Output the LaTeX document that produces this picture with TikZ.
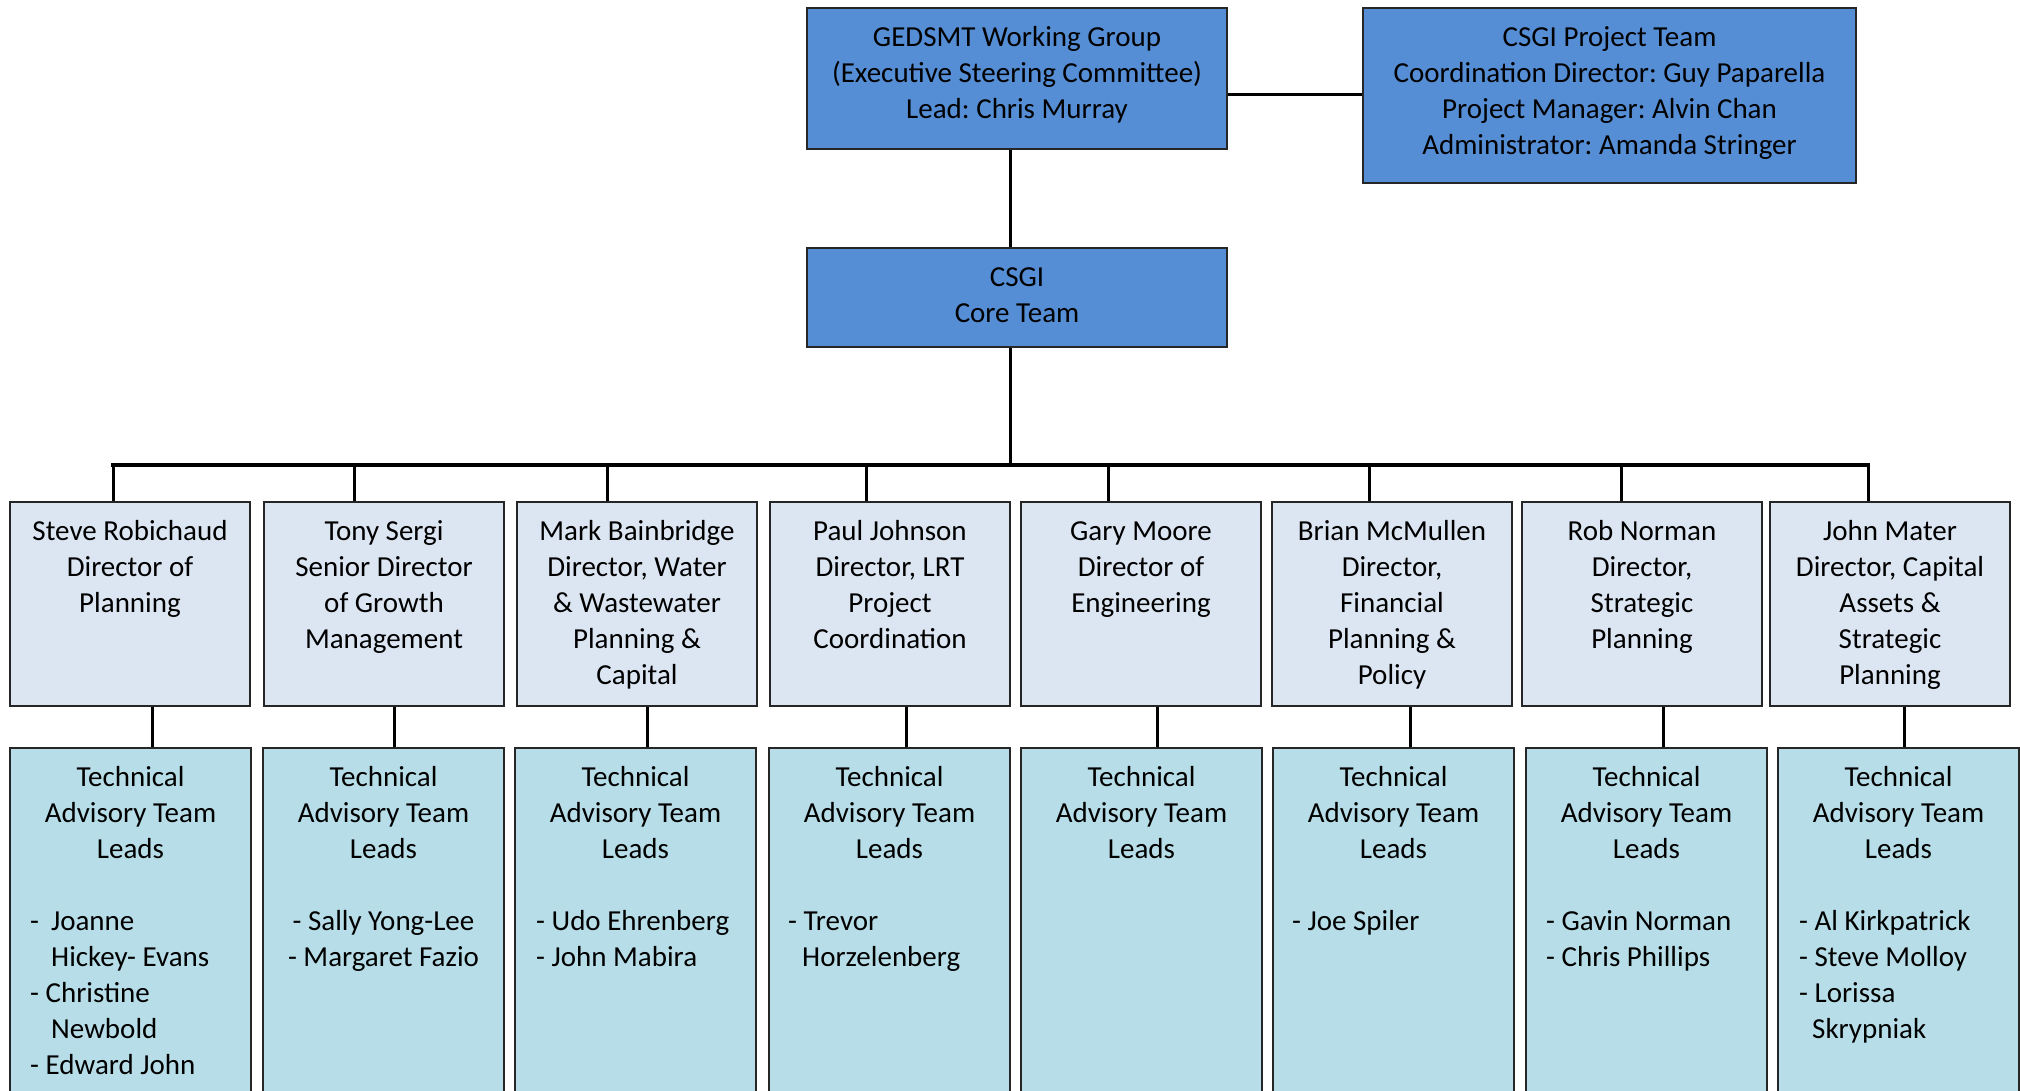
\documentclass[tikz,border=0pt]{standalone}
\usepackage{fontspec}
\setmainfont{Carlito}
\frenchspacing
\definecolor{topblue}{HTML}{558ED5}
\definecolor{dirfill}{HTML}{DCE6F2}
\definecolor{tatfill}{HTML}{B7DEE8}
\begin{document}
\begin{tikzpicture}[x=1pt,y=-1pt,
  box/.style={draw=black!85, line width=2pt, inner sep=0pt, anchor=north west},
  topbox/.style={box, fill=topblue},
  dirbox/.style={box, fill=dirfill, minimum width=240pt, minimum height=204pt},
  tatbox/.style={box, fill=tatfill, minimum width=241pt, minimum height=400pt},
  txt/.style={font=\fontsize{29}{36}\selectfont\frenchspacing, inner sep=0pt, anchor=north, align=center, text=black},
  lst/.style={font=\fontsize{29}{36}\selectfont\frenchspacing, inner sep=0pt, anchor=north west, align=left, text=black},
  conn/.style={line width=3pt, draw=black},
  busline/.style={line width=4pt, draw=black, line cap=rect}
]
\useasboundingbox (0,0) rectangle (2020,1090);
\clip (0,0) rectangle (2020,1090);

% top level
\node[topbox, minimum width=420pt, minimum height=141pt] (gedsmt) at (806,7) {};
\node[topbox, minimum width=493pt, minimum height=175pt] (proj) at (1362,7) {};
\node[topbox, minimum width=420pt, minimum height=99pt] (core) at (806,247) {};

\node[txt] (gedsmttxt) at ([yshift=-14pt]gedsmt.north) {\strut GEDSMT Working Group\\(Executive Steering Committee)\\Lead: Chris Murray};
\node[txt] (projtxt) at ([yshift=-14pt]proj.north) {\strut CSGI Project Team\\Coordination Director: Guy Paparella\\Project Manager: Alvin Chan\\Administrator: Amanda Stringer};
\node[txt] (coretxt) at ([yshift=-14pt]core.north) {\strut CSGI\\Core Team};

% directors
\foreach \i/\x in {1/9,2/263,3/516,4/769,5/1020,6/1271,7/1521,8/1769}
  \node[dirbox] (d\i) at (\x,501) {};
% technical advisory teams
\foreach \i/\x in {1/9,2/262,3/514,4/768,5/1020,6/1272,7/1525,8/1777}
  \node[tatbox] (t\i) at (\x,747) {};

% director texts
\node[txt] (d1txt) at ([yshift=-14pt]d1.north) {\strut Steve Robichaud\\Director of\\Planning};
\node[txt] (d2txt) at ([yshift=-14pt]d2.north) {\strut Tony Sergi\\Senior Director\\of Growth\\Management};
\node[txt] (d3txt) at ([yshift=-14pt]d3.north) {\strut Mark Bainbridge\\Director, Water\\\& Wastewater\\Planning \&\\Capital};
\node[txt] (d4txt) at ([yshift=-14pt]d4.north) {\strut Paul Johnson\\Director, LRT\\Project\\Coordination};
\node[txt] (d5txt) at ([yshift=-14pt]d5.north) {\strut Gary Moore\\Director of\\Engineering};
\node[txt] (d6txt) at ([yshift=-14pt]d6.north) {\strut Brian McMullen\\Director,\\Financial\\Planning \&\\Policy};
\node[txt] (d7txt) at ([yshift=-14pt]d7.north) {\strut Rob Norman\\Director,\\Strategic\\Planning};
\node[txt] (d8txt) at ([yshift=-14pt]d8.north) {\strut John Mater\\Director, Capital\\Assets \&\\Strategic\\Planning};

% TAT headers
\foreach \i in {1,...,8}
  \node[txt] (t\i head) at ([yshift=-14pt]t\i.north) {\strut Technical\\Advisory Team\\Leads};

% TAT lists
\node[lst] (t1list) at ([xshift=21pt,yshift=-158pt]t1.north west) {\strut -\hspace{12pt}Joanne\\\hspace*{21pt}Hickey- Evans\\- Christine\\\hspace*{21pt}Newbold\\- Edward John};
\node[txt] (t2list) at ([yshift=-158pt]t2.north) {\strut - Sally Yong-Lee\\- Margaret Fazio};
\node[lst] (t3list) at ([xshift=22pt,yshift=-158pt]t3.north west) {\strut - Udo Ehrenberg\\- John Mabira};
\node[lst] (t4list) at ([xshift=20pt,yshift=-158pt]t4.north west) {\strut - Trevor\\\hspace*{14pt}Horzelenberg};
\node[lst] (t6list) at ([xshift=20pt,yshift=-158pt]t6.north west) {\strut - Joe Spiler};
\node[lst] (t7list) at ([xshift=21pt,yshift=-158pt]t7.north west) {\strut - Gavin Norman\\- Chris Phillips};
\node[lst] (t8list) at ([xshift=22pt,yshift=-158pt]t8.north west) {\strut - Al Kirkpatrick\\- Steve Molloy\\- Lorissa\\\hspace*{13pt}Skrypniak};

% connectors top
\coordinate (hy) at (1100,94);
\coordinate (vx) at (1010,0);
\draw[conn] (gedsmt.east |- hy) -- (proj.west |- hy);
\draw[conn] (gedsmt.south -| vx) -- (core.north -| vx);

% bus
\foreach \i/\x in {1/113,2/354,3/607,4/866,5/1108,6/1369,7/1621,8/1868}
  \coordinate (b\i) at (\x,465);
\draw[conn] (core.south -| vx) -- (vx |- b1);
\draw[busline] (b1) -- (b8);
\foreach \i in {1,...,8}
  \draw[conn] (b\i) -- (b\i |- d\i.north);

% director to TAT
\foreach \i/\x in {1/152,2/394,3/647,4/906,5/1157,6/1410,7/1663,8/1904}{
  \coordinate (l\i) at (\x,0);
  \draw[conn] (d\i.south -| l\i) -- (t\i.north -| l\i);
}
\end{tikzpicture}
\end{document}
